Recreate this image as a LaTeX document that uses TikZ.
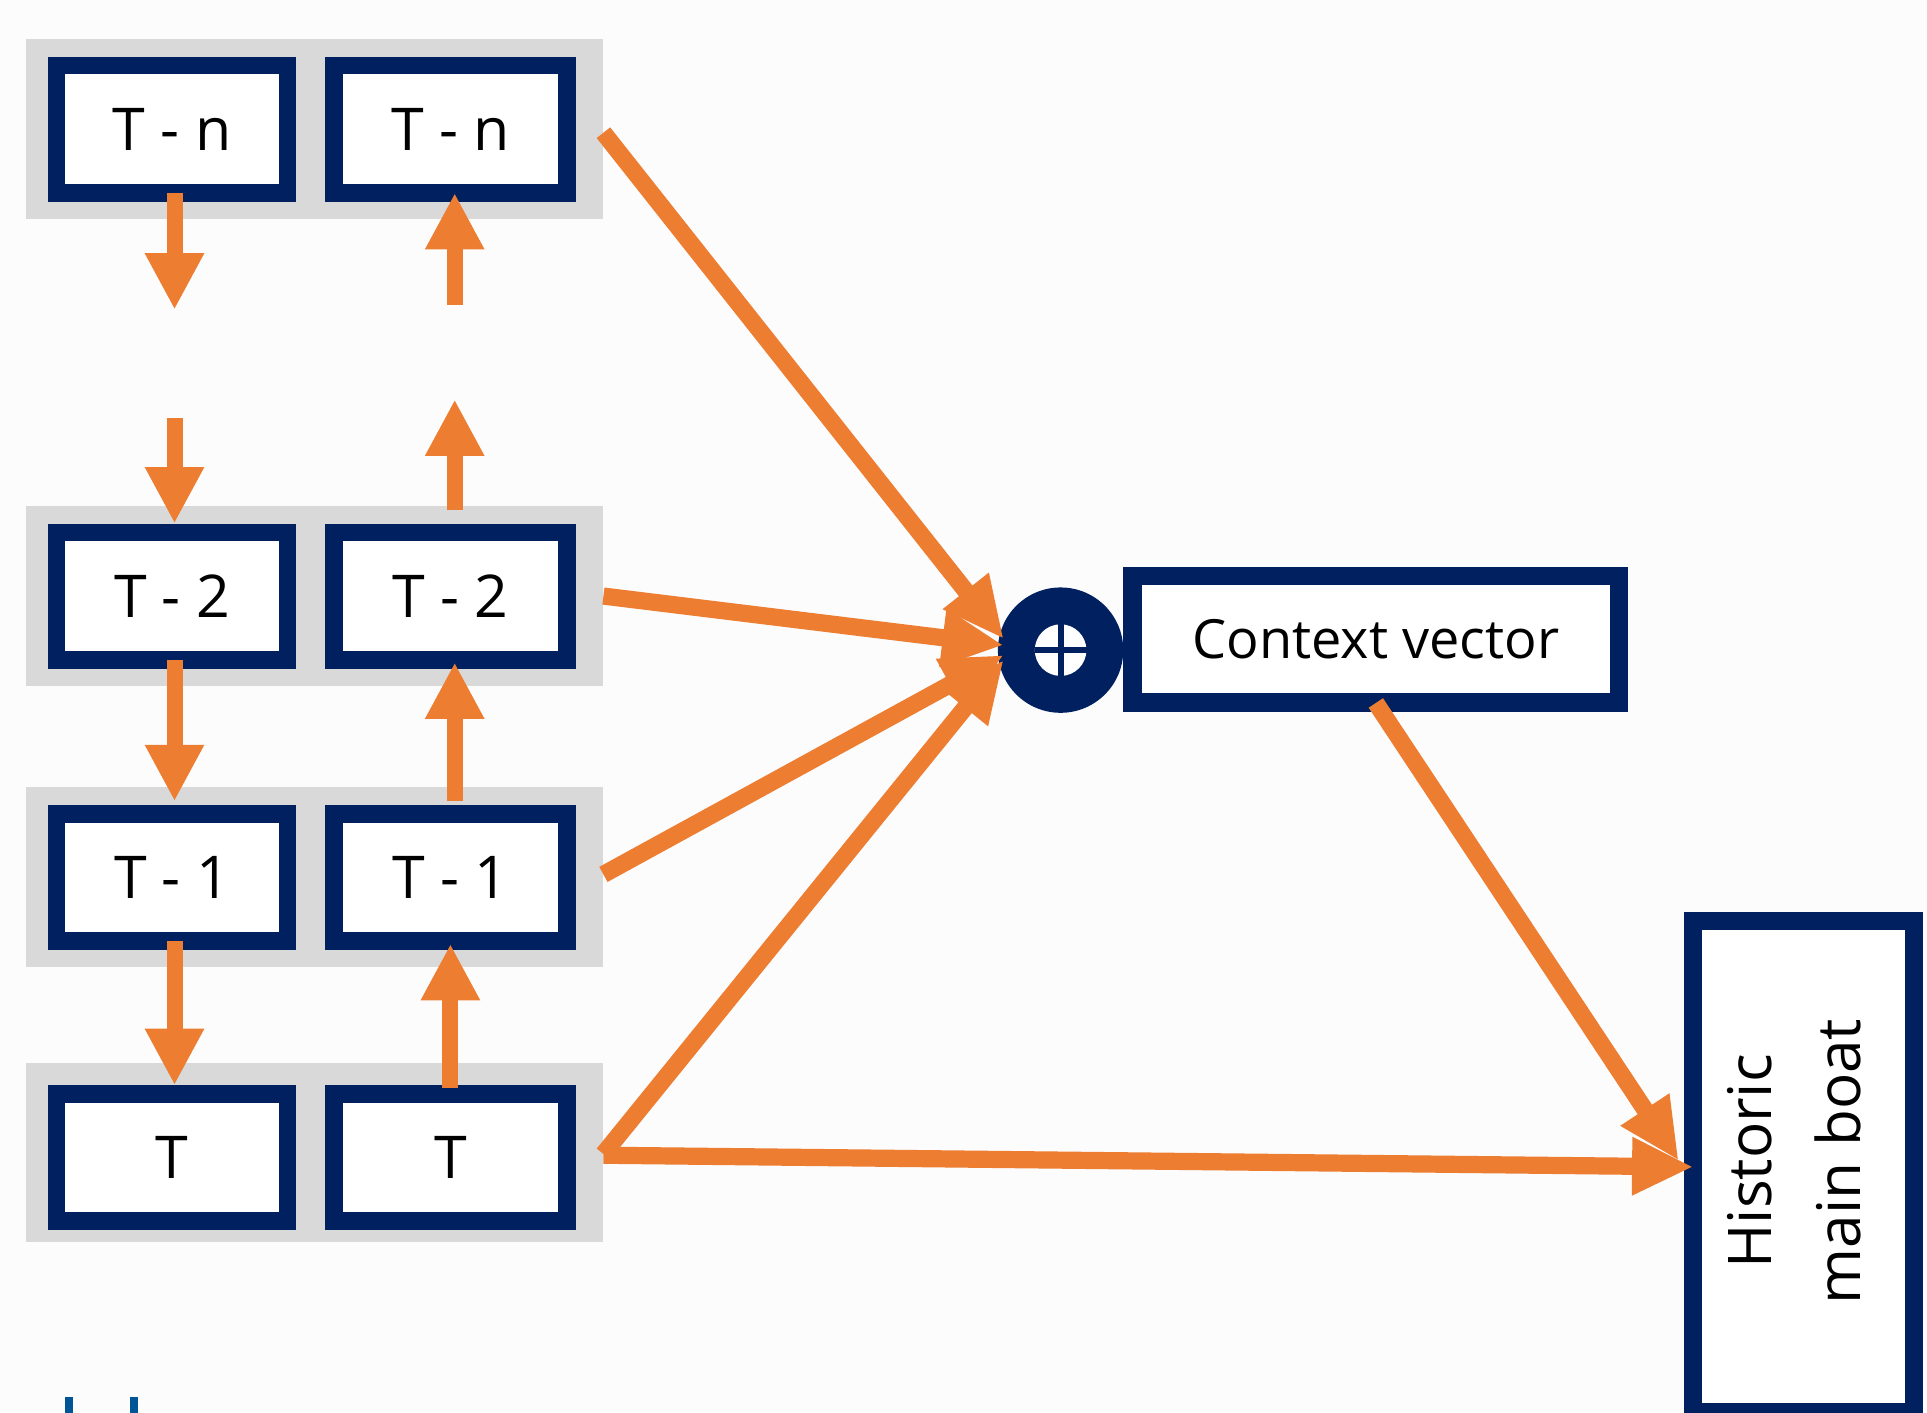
\documentclass[tikz,border=0pt]{standalone}
\usepackage{fontspec}
\setmainfont{Open Sans}
\usetikzlibrary{arrows.meta}
\definecolor{navy}{RGB}{0,32,96}
\definecolor{org}{RGB}{237,125,49}
\definecolor{panelgray}{RGB}{217,217,217}
\definecolor{markblue}{RGB}{0,85,150}
\definecolor{bgwhite}{RGB}{252,252,252}
\begin{document}
\begin{tikzpicture}[x=1pt,y=-1pt,
  panel/.style={fill=panelgray,minimum width=470pt,minimum height=146pt,inner sep=0pt,outer sep=0pt},
  tbox/.style={draw=navy,line width=14.5pt,fill=white,minimum width=188pt,minimum height=103.5pt,inner sep=0pt,font=\fontsize{48}{56}\selectfont},
  varrow/.style={draw=org,line width=13pt,-{Triangle[width=45pt,length=46pt]}},
  barrow/.style={draw=org,line width=14pt,-{Triangle[width=44pt,length=50pt]}},
  navybox/.style={draw=navy,line width=15pt,fill=white,inner sep=0pt}
]
\useasboundingbox (0,0) rectangle (1568,1149);
\fill[bgwhite] (0,0) rectangle (1568,1149);

% gray row panels
\node[panel] (pn) at (256,105) {};
\node[panel] (p2) at (256,485) {};
\node[panel] (p1) at (256,713.5) {};
\node[panel] (p0) at (256,938) {};

% boxes
\node[tbox] (ln) at (140,105) {T - n};
\node[tbox,minimum width=190pt] (rn) at (366.5,105) {T - n};
\node[tbox] (l2) at (140,485) {T - 2};
\node[tbox,minimum width=190pt] (r2) at (366.5,485) {T - 2};
\node[tbox] (l1) at (140,714) {T - 1};
\node[tbox,minimum width=190pt] (r1) at (366.5,714) {T - 1};
\node[tbox] (l0) at (140,942) {T};
\node[tbox,minimum width=190pt] (r0) at (366.5,942) {T};

% sum circle
\node[circle,fill=navy,minimum size=102pt,inner sep=0pt] (circ) at (863,529) {};
\node[circle,fill=white,minimum size=42pt,inner sep=0pt] (plus) at (circ.center) {};
\draw[navy,line width=5pt] (plus.north) -- (plus.south);
\draw[navy,line width=4.5pt] (plus.west) -- (plus.east);

% context vector
\node[navybox,minimum width=396pt,minimum height=103pt,font=\fontsize{44}{52}\selectfont] (cv) at (1119.5,520) {Context vector};

% historic main boat
\node[navybox,minimum width=180pt,minimum height=400pt] (hb) at (1467.5,949.5) {};
\node[rotate=90,align=center,font=\fontsize{49}{72}\selectfont,inner sep=0pt] (hbt) at (1460,945) {Historic\\main boat};

% vertical arrows, left column (downwards)
\coordinate (gl1) at (142,252);
\coordinate (gl2) at (142,340);
\draw[varrow] ([xshift=2pt,yshift=7pt]ln.south) -- (gl1);
\draw[varrow] (gl2) -- ([xshift=2pt]l2.north);
\draw[varrow] ([xshift=2pt,yshift=7pt]l2.south) -- ([xshift=2pt,yshift=3pt]l1.north);
\draw[varrow] ([xshift=2pt,yshift=7pt]l1.south) -- ([xshift=2pt]l0.north);

% vertical arrows, right column (upwards)
\coordinate (gr1) at (370,248);
\coordinate (gr2) at (370,325);
\draw[varrow] (gr1) -- ([xshift=3.5pt,yshift=7pt]rn.south);
\draw[varrow] ([xshift=3.5pt,yshift=11pt]r2.north) -- (gr2);
\draw[varrow] ([xshift=3.5pt,yshift=3pt]r1.north) -- ([xshift=3.5pt,yshift=5pt]r2.south);
\draw[varrow] ([yshift=-2pt]r0.north) -- ([yshift=5pt]r1.south);

% big arrows to the sum
\draw[barrow] ([yshift=-3pt]pn.east) -- ([xshift=5pt,yshift=9pt]circ.west);
\draw[barrow] (p2.east) -- ([xshift=5pt,yshift=4pt]circ.west);
\draw[barrow] ([yshift=2pt]p1.east) -- ([xshift=5pt,yshift=-4pt]circ.west);
\draw[barrow] ([yshift=-1pt]p0.east) -- ([xshift=5pt,yshift=-8pt]circ.west);

% to historic main boat
\draw[barrow] ([yshift=-2pt]p0.east) -- ([xshift=8pt]hb.west);
\draw[barrow] ([yshift=7pt]cv.south) -- ([xshift=-4pt,yshift=5pt]hb.west);

% cut-off marks at the bottom left
\draw[markblue,line width=6pt] (56,1137) -- (56,1150);
\draw[markblue,line width=6pt] (109,1137) -- (109,1150);
\end{tikzpicture}
\end{document}
